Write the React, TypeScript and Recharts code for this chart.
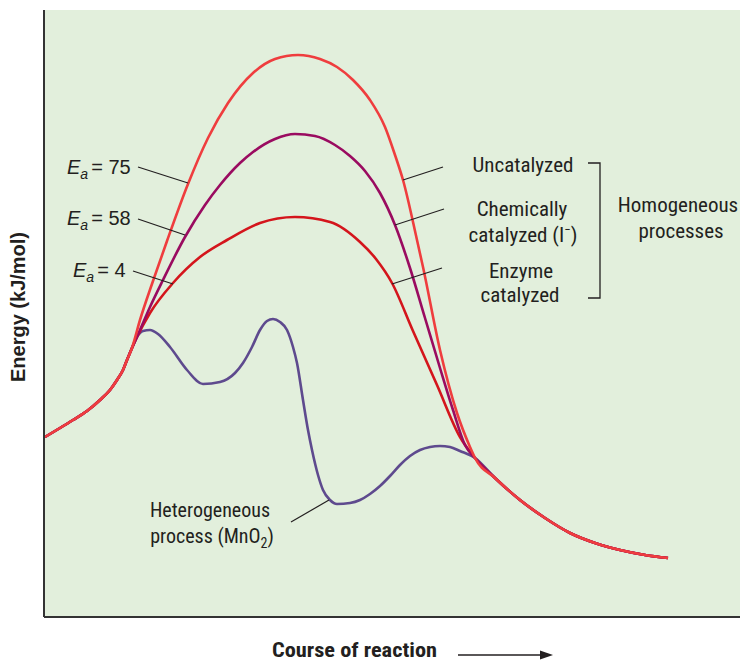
import React from "react";
import {
  LineChart,
  Line,
  XAxis,
  YAxis,
  CartesianGrid,
  ReferenceLine,
} from "recharts";

// Reaction coordinate (x) and energy (y) (arbitrary units)
const commonStart = [
  { x: 1, y: 180 },
  { x: 16, y: 189 },
  { x: 29, y: 197 },
  { x: 43, y: 206 },
  { x: 56, y: 217 },
  { x: 66, y: 227 },
  { x: 73, y: 237 },
  { x: 79, y: 247 },
  { x: 83, y: 257 },
  { x: 88, y: 269 },
];

const commonTail = [
  { x: 451, y: 139 },
  { x: 476, y: 117 },
  { x: 501, y: 99 },
  { x: 526, y: 84 },
  { x: 551, y: 74 },
  { x: 576, y: 67 },
  { x: 601, y: 62 },
  { x: 624, y: 59 },
];

const uncatalyzed = [
  { x: 96, y: 297 },
  { x: 109, y: 336 },
  { x: 123, y: 376 },
  { x: 144, y: 433 },
  { x: 164, y: 479 },
  { x: 184, y: 514 },
  { x: 209, y: 544 },
  { x: 231, y: 558 },
  { x: 254, y: 562 },
  { x: 276, y: 558 },
  { x: 293, y: 550 },
  { x: 309, y: 537 },
  { x: 326, y: 517 },
  { x: 341, y: 490 },
  { x: 351, y: 462 },
  { x: 359, y: 437 },
  { x: 373, y: 377 },
  { x: 379, y: 350 },
  { x: 396, y: 267 },
  { x: 413, y: 204 },
  { x: 426, y: 170 },
  { x: 431, y: 159 },
];

const chemicallyCatalyzed = [
  { x: 96, y: 287 },
  { x: 106, y: 310 },
  { x: 119, y: 337 },
  { x: 141, y: 380 },
  { x: 161, y: 412 },
  { x: 176, y: 432 },
  { x: 196, y: 454 },
  { x: 209, y: 465 },
  { x: 231, y: 478 },
  { x: 251, y: 483 },
  { x: 271, y: 481 },
  { x: 291, y: 472 },
  { x: 306, y: 461 },
  { x: 321, y: 446 },
  { x: 336, y: 424 },
  { x: 351, y: 392 },
  { x: 366, y: 349 },
  { x: 381, y: 299 },
  { x: 396, y: 249 },
  { x: 409, y: 207 },
  { x: 421, y: 172 },
  { x: 431, y: 159 },
];

const enzymeCatalyzed = [
  { x: 93, y: 280 },
  { x: 106, y: 304 },
  { x: 129, y: 334 },
  { x: 156, y: 360 },
  { x: 183, y: 377 },
  { x: 216, y: 394 },
  { x: 251, y: 400 },
  { x: 286, y: 395 },
  { x: 316, y: 375 },
  { x: 332, y: 358 },
  { x: 348, y: 334 },
  { x: 369, y: 286 },
  { x: 393, y: 232 },
  { x: 416, y: 180 },
  { x: 431, y: 159 },
];

const heterogeneous = [
  { x: 93, y: 280 },
  { x: 99, y: 286 },
  { x: 106, y: 287 },
  { x: 114, y: 283 },
  { x: 126, y: 270 },
  { x: 143, y: 247 },
  { x: 159, y: 233 },
  { x: 176, y: 235 },
  { x: 191, y: 244 },
  { x: 199, y: 254 },
  { x: 208, y: 270 },
  { x: 216, y: 287 },
  { x: 223, y: 296 },
  { x: 229, y: 298 },
  { x: 236, y: 295 },
  { x: 243, y: 287 },
  { x: 249, y: 270 },
  { x: 253, y: 254 },
  { x: 259, y: 217 },
  { x: 264, y: 187 },
  { x: 268, y: 167 },
  { x: 274, y: 142 },
  { x: 279, y: 127 },
  { x: 286, y: 117 },
  { x: 293, y: 113 },
  { x: 306, y: 114 },
  { x: 316, y: 117 },
  { x: 326, y: 123 },
  { x: 336, y: 131 },
  { x: 346, y: 141 },
  { x: 356, y: 152 },
  { x: 366, y: 161 },
  { x: 376, y: 167 },
  { x: 386, y: 170 },
  { x: 396, y: 171 },
  { x: 406, y: 170 },
  { x: 416, y: 166 },
  { x: 431, y: 159 },
];

const activationLabels = ["75", "58", "4"];
const homogeneousLabels = ["Uncatalyzed", "Chemically", "catalyzed (I", "Enzyme", "catalyzed"];

const full = (mid: { x: number; y: number }[]) => [...commonStart, ...mid, ...commonTail];

const NARROW = "'Liberation Sans Narrow', 'Arial Narrow', 'Roboto Condensed', 'Liberation Sans', sans-serif";
const REGULAR = "'Liberation Sans', Arial, sans-serif";
const INK = "#231f20";

export default function App() {
  return (
    <div style={{ position: "absolute", left: 0, top: 0, width: 740, height: 662, background: "#fff" }}>
      <LineChart
        width={740}
        height={662}
        margin={{ top: 10, right: 0, bottom: 45, left: 44 }}
      >
        <CartesianGrid horizontal={false} vertical={false} fill="#e2efdc" fillOpacity={1} />
        <XAxis type="number" dataKey="x" domain={[0, 696]} hide allowDataOverflow />
        <YAxis type="number" dataKey="y" domain={[0, 607]} hide allowDataOverflow />
        <Line
          data={full(heterogeneous)}
          dataKey="y"
          type="monotone"
          stroke="#5e4a8e"
          strokeWidth={2.6}
          dot={false}
          isAnimationActive={false}
        />
        <Line
          data={full(enzymeCatalyzed)}
          dataKey="y"
          type="monotone"
          stroke="#d4151c"
          strokeWidth={2.6}
          dot={false}
          isAnimationActive={false}
        />
        <Line
          data={full(chemicallyCatalyzed)}
          dataKey="y"
          type="monotone"
          stroke="#9a0b60"
          strokeWidth={2.6}
          dot={false}
          isAnimationActive={false}
        />
        <Line
          data={full(uncatalyzed)}
          dataKey="y"
          type="monotone"
          stroke="#ef3d3e"
          strokeWidth={2.6}
          dot={false}
          isAnimationActive={false}
        />
        <ReferenceLine x={0} stroke="#333" strokeWidth={2} />
        <ReferenceLine y={0} stroke="#333" strokeWidth={2} />
      </LineChart>

      <svg
        width={740}
        height={662}
        style={{ position: "absolute", left: 0, top: 0, pointerEvents: "none" }}
        fontFamily={NARROW}
        fill={INK}
      >
        {/* Activation energy labels */}
        {[
          { x: 67, y: 174, lx1: 138, ly1: 167, lx2: 188, ly2: 183 },
          { x: 67, y: 225, lx1: 138, ly1: 219, lx2: 185, ly2: 235 },
          { x: 73, y: 277, lx1: 133, ly1: 271, lx2: 173, ly2: 284 },
        ].map((p, i) => (
          <g key={i}>
            <text x={p.x} y={p.y} fontSize={20} fontFamily={REGULAR}>
              <tspan fontStyle="italic">E</tspan>
              <tspan fontStyle="italic" fontSize={14} dy={5}>a</tspan>
              <tspan dy={-5} dx={3}>= {activationLabels[i]}</tspan>
            </text>
            <line x1={p.lx1} y1={p.ly1} x2={p.lx2} y2={p.ly2} stroke={INK} strokeWidth={1.2} />
          </g>
        ))}

        {/* Homogeneous labels */}
        <text x={523} y={172} fontSize={21} textAnchor="middle">{homogeneousLabels[0]}</text>
        <text x={522} y={216} fontSize={21} textAnchor="middle">{homogeneousLabels[1]}</text>
        <text x={523} y={242} fontSize={21} textAnchor="middle">
          {homogeneousLabels[2]}
          <tspan fontSize={13} dy={-8}>−</tspan>
          <tspan dy={8}>)</tspan>
        </text>
        <text x={521} y={278} fontSize={21} textAnchor="middle">{homogeneousLabels[3]}</text>
        <text x={520} y={302} fontSize={21} textAnchor="middle">{homogeneousLabels[4]}</text>
        <line x1={403} y1={180} x2={443} y2={167} stroke={INK} strokeWidth={1.2} />
        <line x1={395} y1={225} x2={444} y2={209} stroke={INK} strokeWidth={1.2} />
        <line x1={392} y1={284} x2={442} y2={268} stroke={INK} strokeWidth={1.2} />
        <polyline points="588,163 600,163 600,298 588,298" fill="none" stroke={INK} strokeWidth={1.3} />
        <text x={678} y={212} fontSize={21} textAnchor="middle">Homogeneous</text>
        <text x={681} y={238} fontSize={21} textAnchor="middle">processes</text>

        {/* Heterogeneous label */}
        <text x={210} y={517} fontSize={20} textAnchor="middle">Heterogeneous</text>
        <text x={212} y={543} fontSize={20} textAnchor="middle">
          process (MnO
          <tspan fontSize={14} dy={5}>2</tspan>
          <tspan dy={-5}>)</tspan>
        </text>
        <line x1={291} y1={522} x2={329} y2={500} stroke={INK} strokeWidth={1.2} />

        {/* Axis titles */}
        <text
          x={272}
          y={657}
          fontSize={20}
          fontWeight="bold"
          textLength={165}
          lengthAdjust="spacingAndGlyphs"
        >
          Course of reaction
        </text>
        <line x1={458} y1={655} x2={542} y2={655} stroke={INK} strokeWidth={1.3} />
        <polygon points="553,655 540,650.5 540,659.5" fill={INK} />
        <text
          x={25}
          y={307}
          fontSize={20}
          fontWeight="bold"
          fontFamily={REGULAR}
          textAnchor="middle"
          transform="rotate(-90 25 307)"
        >
          Energy (kJ/mol)
        </text>
      </svg>
    </div>
  );
}
